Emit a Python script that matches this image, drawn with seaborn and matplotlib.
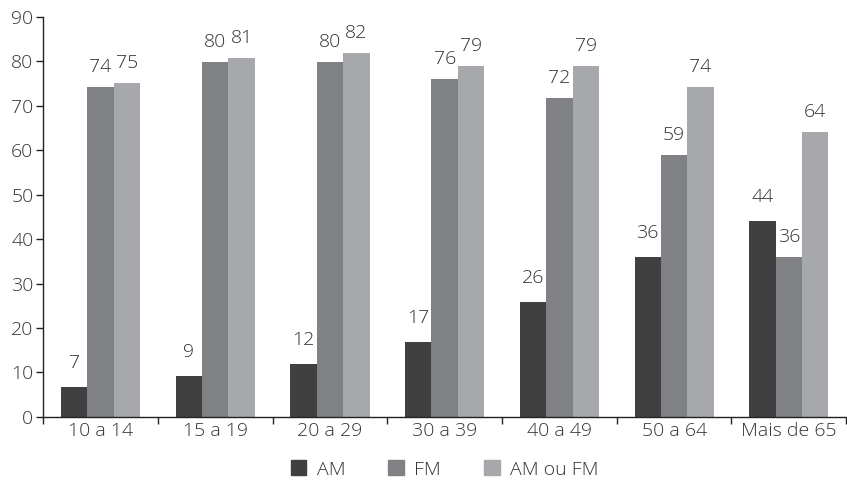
import matplotlib.pyplot as plt
import pandas as pd
import seaborn as sns
from matplotlib.patches import Patch

# data
categories = ["10 a 14", "15 a 19", "20 a 29", "30 a 39", "40 a 49", "50 a 64", "Mais de 65"]
am = [6.75, 9.15, 11.9, 16.8, 25.8, 35.9, 44.0]
fm = [74.3, 79.8, 79.8, 76.0, 71.7, 58.9, 35.9]
am_ou_fm = [75.2, 80.7, 81.8, 78.9, 78.9, 74.25, 64.1]
series = ["AM", "FM", "AM ou FM"]
colors = ["#404040", "#808184", "#a7a8ab"]

df = pd.DataFrame({
    "faixa": categories * 3,
    "serie": [s for s in series for _ in categories],
    "valor": am + fm + am_ou_fm,
})

sns.set_style("ticks")
plt.rcParams["font.family"] = ["Open Sans", "DejaVu Sans"]
plt.rcParams["font.weight"] = "light"
text_color = "#333333"
fs = 14

fig = plt.figure(figsize=(8.47, 4.83), dpi=100)
ax = fig.add_axes([0.051, 0.137, 0.948, 0.828])

sns.barplot(
    data=df, x="faixa", y="valor", hue="serie", order=categories,
    hue_order=series, palette=colors, width=0.69, gap=0,
    saturation=1, legend=False, linewidth=0, ax=ax,
)

pads = [11, 8, 8]
for cont, pad in zip(ax.containers, pads):
    ax.bar_label(cont, labels=[f"{v:.0f}" for v in cont.datavalues],
                 padding=pad, fontsize=fs, color=text_color)

ax.set_ylim(0, 90)
ax.set_xlim(-0.5, len(categories) - 0.5)
ax.set_yticks(range(0, 91, 10))
ax.set_xlabel("")
ax.set_ylabel("")
ax.set_xticks([i - 0.5 for i in range(len(categories) + 1)], minor=True)
ax.tick_params(axis="x", which="major", length=0, pad=4, labelsize=fs, labelcolor=text_color)
ax.tick_params(axis="x", which="minor", length=5, width=1, color="#222222")
ax.tick_params(axis="y", length=5, width=1, color="#222222", pad=2, labelsize=fs, labelcolor=text_color)
sns.despine(ax=ax)
for side in ["left", "bottom"]:
    ax.spines[side].set_color("#222222")
    ax.spines[side].set_linewidth(1)

handles = [Patch(color=c, label=s) for s, c in zip(series, colors)]
fig.legend(handles=handles, loc="center", bbox_to_anchor=(0.525, 0.028), ncol=3,
           frameon=False, fontsize=fs, labelcolor=text_color, borderaxespad=0,
           borderpad=0.1, handlelength=0.8, handleheight=0.8,
           columnspacing=2.2, handletextpad=0.55)

fig.savefig("out.png", dpi=100)
